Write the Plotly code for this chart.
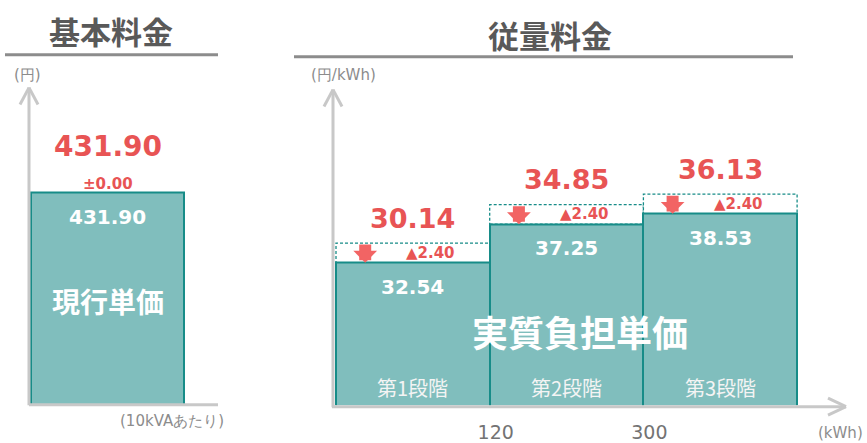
import plotly.graph_objects as go

# ---------------- data ----------------
basic_label = ["現行単価"]
basic_current = [431.90]
basic_change = [0.00]
basic_effective = [431.90]

stage_labels = ["第1段階", "第2段階", "第3段階"]
stage_current = [32.54, 37.25, 38.53]
stage_reduction = [2.40, 2.40, 2.40]
stage_effective = [30.14, 34.85, 36.13]
boundary_ticks = ["120", "300"]

panel_titles = ["基本料金", "従量料金"]
unit_labels = ["(円)", "(10kVAあたり)", "(円/kWh)", "(kWh)"]
center_label = "実質負担単価"

# ---------------- style ----------------
W, H = 867, 443
def px(x): return x / W
def py(y): return 1 - y / H

TEAL_FILL = "#80bebd"
TEAL_LINE = "#178c88"
RED = "#e85454"
ARROW_RED = "#f26464"
AXIS_GRAY = "#c8c8c8"
TITLE_GRAY = "#595959"
LABEL_GRAY = "#8c8c8c"
NUM_FONT = "DejaVu Sans"
JP_FONT = "Noto Sans CJK JP"
C = dict(xanchor="center", yanchor="middle", showarrow=False)

fig = go.Figure()

# left panel bar
fig.add_trace(go.Bar(
    x=[i + 0.5 for i in range(len(basic_current))], y=basic_current, width=1,
    marker=dict(color=TEAL_FILL, line=dict(color=TEAL_LINE, width=2)),
    xaxis="x", yaxis="y", hoverinfo="skip", showlegend=False))

# right panel bars
fig.add_trace(go.Bar(
    x=[i + 0.5 for i in range(len(stage_current))], y=stage_current, width=1,
    marker=dict(color=TEAL_FILL, line=dict(color=TEAL_LINE, width=2)),
    xaxis="x2", yaxis="y2", hoverinfo="skip", showlegend=False))

shapes = []
ann = []

# dashed reduction boxes + arrows + labels
for i, (v, r, e) in enumerate(zip(stage_current, stage_reduction, stage_effective)):
    shapes.append(dict(type="rect", xref="x2", yref="y2", x0=i, x1=i + 1, y0=v, y1=v + r,
                       line=dict(color=TEAL_LINE, width=1.3, dash="3px,2px"),
                       fillcolor="white", layer="below"))
    ann.append(dict(xref="x2", yref="y2", axref="x2", ayref="y2",
                    x=i + 0.19, y=v, ax=i + 0.19, ay=v + r, text="",
                    showarrow=True, arrowhead=1, arrowsize=0.33, arrowwidth=12,
                    arrowcolor=ARROW_RED, standoff=0, startstandoff=0))
    ann.append(dict(xref="x2", yref="y2", x=i + 0.5, y=v + r / 2, xshift=18,
                    text="▲" + f"{r:.2f}", **C,
                    font=dict(family=NUM_FONT, size=15, color=RED, weight="bold")))
    ann.append(dict(xref="x2", yref="y2", x=i + 0.5, y=v + r, yshift=25,
                    text=f"{e:.2f}", **C,
                    font=dict(family=NUM_FONT, size=27, color=RED, weight="bold")))
    ann.append(dict(xref="x2", yref="y2", x=i + 0.5, y=v, yshift=-24,
                    text=f"{v:.2f}", **C,
                    font=dict(family=NUM_FONT, size=20, color="white", weight="bold")))
    ann.append(dict(xref="x2", yref="paper", x=i + 0.5, y=py(389),
                    text=stage_labels[i], **C,
                    font=dict(family=JP_FONT, size=20, color="#f4f4f4")))

for i, (v, c, e) in enumerate(zip(basic_current, basic_change, basic_effective)):
    sign = "±" if c == 0 else "▲"
    ann.append(dict(xref="x", yref="y", x=i + 0.5, y=v, yshift=8,
                    text=sign + f"{abs(c):.2f}", **C,
                    font=dict(family=NUM_FONT, size=15, color=RED, weight="bold")))
    ann.append(dict(xref="x", yref="y", x=i + 0.5, y=v, yshift=46,
                    text=f"{e:.2f}", **C,
                    font=dict(family=NUM_FONT, size=28, color=RED, weight="bold")))
    ann.append(dict(xref="x", yref="y", x=i + 0.5, y=v, yshift=-25,
                    text=f"{v:.2f}", **C,
                    font=dict(family=NUM_FONT, size=20, color="white", weight="bold")))
    ann.append(dict(xref="x", yref="paper", x=i + 0.5, y=py(302),
                    text=basic_label[i], **C,
                    font=dict(family=JP_FONT, size=28, color="white", weight="bold")))

# center label
ann.append(dict(xref="paper", yref="paper", x=px(580), y=py(333), text=center_label, **C,
                font=dict(family=JP_FONT, size=36, color="white", weight="bold")))

# titles
ann.append(dict(xref="paper", yref="paper", x=px(111), y=py(31), text=panel_titles[0], **C,
                font=dict(family=JP_FONT, size=31, color=TITLE_GRAY, weight="bold")))
ann.append(dict(xref="paper", yref="paper", x=px(550), y=py(35), text=panel_titles[1], **C,
                font=dict(family=JP_FONT, size=31, color=TITLE_GRAY, weight="bold")))
shapes.append(dict(type="line", xref="paper", yref="paper", x0=px(5), x1=px(218), y0=py(55), y1=py(55),
                   line=dict(color=LABEL_GRAY, width=3)))
shapes.append(dict(type="line", xref="paper", yref="paper", x0=px(294), x1=px(793), y0=py(57), y1=py(57),
                   line=dict(color=LABEL_GRAY, width=3)))

# unit labels
for txt, (cx, cy) in zip(unit_labels, [(28, 75), (172, 423), (343, 75), (840, 435)]):
    ann.append(dict(xref="paper", yref="paper", x=px(cx), y=py(cy), text=txt, **C,
                    font=dict(family=NUM_FONT, size=15, color=LABEL_GRAY)))

# axis lines with open arrowheads
def seg(x0, y0, x1, y1):
    return dict(type="line", xref="paper", yref="paper", x0=px(x0), y0=py(y0), x1=px(x1), y1=py(y1),
                line=dict(color=AXIS_GRAY, width=3))

shapes += [
    seg(29, 88, 29, 407), seg(29, 406.5, 218, 406.5), seg(20, 105, 29, 88), seg(38, 105, 29, 88),
    seg(333, 90, 333, 409), seg(332, 408.5, 846, 408.5), seg(324, 107, 333, 90), seg(342, 107, 333, 90),
    seg(828, 400, 846, 408.5), seg(828, 417, 846, 408.5),
]

hidden = dict(showgrid=False, zeroline=False, showline=False, showticklabels=False, ticks="")

fig.update_layout(
    width=W, height=H, margin=dict(l=0, r=0, t=0, b=0),
    paper_bgcolor="white", plot_bgcolor="white", showlegend=False, bargap=0,
    xaxis=dict(domain=[px(29), px(218)], range=[(29 - 31) / 153, (218 - 31) / 153], **hidden),
    yaxis=dict(domain=[py(407), py(87)], range=[0, 646], **hidden),
    xaxis2=dict(domain=[px(332), px(846)], range=[(332 - 336) / 153.7, (846 - 336) / 153.7],
                anchor="y2", showgrid=False, zeroline=False, showline=False,
                tickvals=list(range(1, len(boundary_ticks) + 1)), ticktext=boundary_ticks,
                ticks="", ticklabelstandoff=14, ticklabelshift=6,
                tickfont=dict(family=NUM_FONT, size=19, color="#737373")),
    yaxis2=dict(domain=[py(407), py(87)], range=[15.1, 54.1], anchor="x2", **hidden),
    shapes=shapes, annotations=ann,
)

fig.write_html("out.html", config={"displayModeBar": False},
               post_script="document.body.style.margin='0';")
